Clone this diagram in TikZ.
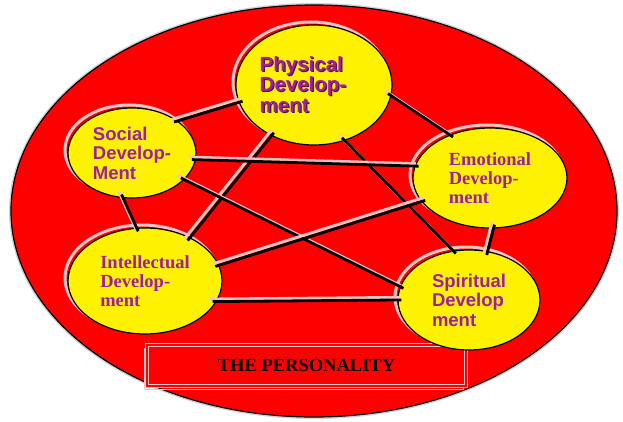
\documentclass[tikz,border=0pt]{standalone}
\usepackage{fontspec}
\setmainfont{Liberation Serif}
\newfontfamily\arialfont{Liberation Sans}
\usetikzlibrary{shapes.geometric}
\definecolor{devpurple}{RGB}{160,30,160}
\definecolor{halo}{RGB}{245,195,195}
% text with a dark drop shadow
\newcommand\shadowed[1]{\rlap{\hspace{1.2pt}\raisebox{-1.2pt}{\color{devpurple!55!black}#1}}#1}

\begin{document}
\begin{tikzpicture}[x=10pt, y=-10pt]
\tikzstyle{dev}=[ellipse, draw=black, line width=1.2pt, fill=yellow, inner sep=0pt,
  align=left, text=devpurple, font=\bfseries\fontsize{18.5}{19}\selectfont,
  preaction={draw=halo, line width=3pt, transform canvas={shift={(-3pt,3pt)}}}]
\tikzstyle{sans}=[font=\arialfont\bfseries\fontsize{18.5}{19.5}\selectfont]
\tikzstyle{link}=[line width=2.8pt, black, shorten <=-4pt, shorten >=-4pt,
  preaction={draw=halo, line width=3pt, shorten <=-4pt, shorten >=-4pt,
    transform canvas={shift={(-2.5pt,2.5pt)}}}]
\useasboundingbox (0,0) rectangle (62.3,42.2);

\node(whole)[ellipse, minimum width=606pt, minimum height=412pt, fill=red,
  draw=black, line width=1.2pt,
  preaction={draw=gray!35, line width=4pt}] at (31.4, 21.1) {};
\node(title)[draw=halo, line width=1pt, double=red, double distance=2.5pt, fill=red,
  minimum width=319pt, minimum height=41pt,
  font=\bfseries\fontsize{18.5}{19}\selectfont,
  preaction={draw=halo, line width=1pt, transform canvas={shift={(-3pt,-3pt)}}}]
  at (30.65, 36.55) {THE PERSONALITY};

\node(phys)[dev, minimum width=156pt, minimum height=120pt,
  font=\arialfont\bfseries\fontsize{20.5}{20.5}\selectfont]
  at (31.4,  8.5) {\shadowed{Physical}\\\shadowed{Develop-}\rule{22pt}{0pt}\\\shadowed{ment}};
\node(soc) [dev, sans, minimum width=128pt, minimum height=90pt]  at (13.2, 15.3) {Social\\Develop-\\Ment};
\node(emo) [dev, minimum width=154pt, minimum height=100pt]  at (49.0, 17.8) {Emotional\\Develop-\\ment};
\node(int) [dev, minimum width=154pt, minimum height=106pt]  at (14.5, 28.1) {Intellectual\\Develop-\\ment};
\node(spi) [dev, sans, minimum width=142pt, minimum height=100pt] at (46.9, 30.0) {Spiritual\\Develop\\ment};

\draw[link] (soc.35)  -- (phys.193);
\draw[link] (phys.352) -- (emo.133);
\draw[link] (phys.230) -- (int.44);
\draw[link] (phys.299) -- (spi.108);
\draw[link] (soc.354) -- (emo.171);
\draw[link] (soc.259) -- (int.99);
\draw[link] (soc.333) -- (spi.169);
\draw[link] (emo.199) -- (int.12);
\draw[link] (emo.274) -- (spi.69);
\draw[link] (int.344) -- (spi.180);

\end{tikzpicture}
\end{document}
